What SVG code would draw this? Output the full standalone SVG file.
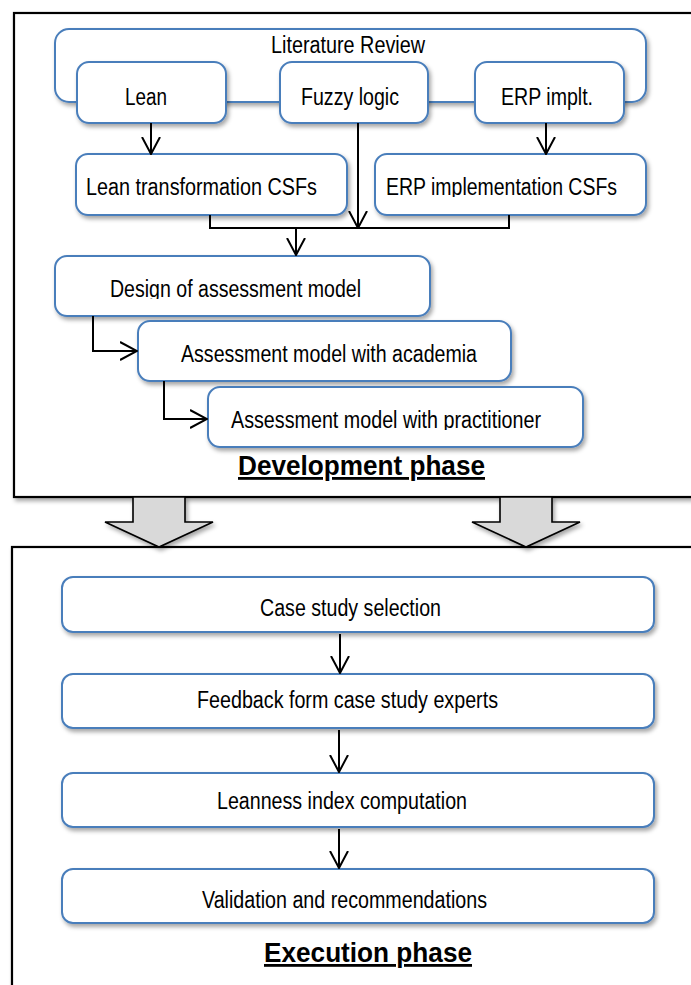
<svg xmlns="http://www.w3.org/2000/svg" width="691" height="985" viewBox="0 0 691 985">
  <defs>
    <style>
      .frame { fill: #ffffff; stroke: #000000; stroke-width: 2.2; }
      .box { fill: #ffffff; stroke: #4a7ebb; stroke-width: 2; }
      .lbl { font-family: "Liberation Sans", Arial, sans-serif; font-size: 23px; fill: #000000; text-anchor: middle; }
      .title { font-family: "Liberation Sans", Arial, sans-serif; font-size: 28px; font-weight: bold; fill: #000000; text-anchor: middle; text-decoration: underline; }
      .wire { fill: none; stroke: #000000; stroke-width: 2; }
      .block { fill: #d9d9d9; stroke: #000000; stroke-width: 1.6; stroke-linejoin: miter; }
    </style>
    <filter id="shadow" x="-10%" y="-10%" width="130%" height="140%">
      <feDropShadow dx="2" dy="3" stdDeviation="2" flood-color="#000000" flood-opacity="0.35"/>
    </filter>
    <marker id="chev" viewBox="0 0 18 20" refX="17" refY="10" markerWidth="18" markerHeight="20" markerUnits="userSpaceOnUse" orient="auto">
      <path d="M0,1 L17,10 L0,19" fill="none" stroke="#000000" stroke-width="2"/>
    </marker>
    <clipPath id="clipErp"><rect x="370" y="150" width="280" height="47"/></clipPath>
    <clipPath id="clipDesign"><rect x="50" y="250" width="390" height="49"/></clipPath>
    <clipPath id="clipPract"><rect x="200" y="385" width="390" height="45"/></clipPath>
  </defs>

  <!-- phase frames -->
  <g id="development-frame">
    <rect class="frame" x="14" y="13" width="700" height="484" filter="url(#shadow)"/>
  </g>
  <g id="execution-frame">
    <rect class="frame" x="12" y="547" width="700" height="460" filter="url(#shadow)"/>
  </g>

  <!-- block arrows between phases -->
  <g id="phase-arrows">
    <polygon class="block" points="133,497 185,497 185,522 213,522 159,547 105,522 133,522" filter="url(#shadow)"/>
    <polygon class="block" points="500,497 552,497 552,522 580,522 526,547 472,522 500,522" filter="url(#shadow)"/>
  </g>

  <!-- development phase nodes -->
  <g id="literature-review">
    <rect class="box" x="55" y="29" width="591" height="73" rx="14" filter="url(#shadow)"/>
    <text class="lbl" x="348" y="53" textLength="154" lengthAdjust="spacingAndGlyphs">Literature Review</text>
  </g>
  <g id="lean">
    <rect class="box" x="77" y="62" width="149" height="61" rx="12" filter="url(#shadow)"/>
    <text class="lbl" x="146" y="105" textLength="42" lengthAdjust="spacingAndGlyphs">Lean</text>
  </g>
  <g id="fuzzy-logic">
    <rect class="box" x="280" y="62" width="148" height="61" rx="12" filter="url(#shadow)"/>
    <text class="lbl" x="350" y="105" textLength="98" lengthAdjust="spacingAndGlyphs">Fuzzy logic</text>
  </g>
  <g id="erp-implt">
    <rect class="box" x="475" y="62" width="149" height="61" rx="12" filter="url(#shadow)"/>
    <text class="lbl" x="547" y="105" textLength="92" lengthAdjust="spacingAndGlyphs">ERP implt.</text>
  </g>
  <g id="lean-csfs">
    <rect class="box" x="76" y="154" width="271" height="61" rx="12" filter="url(#shadow)"/>
    <text class="lbl" x="201.5" y="195" textLength="231" lengthAdjust="spacingAndGlyphs">Lean transformation CSFs</text>
  </g>
  <g id="erp-csfs">
    <rect class="box" x="375" y="154" width="271" height="61" rx="12" filter="url(#shadow)"/>
    <text class="lbl" x="501.5" y="195" textLength="231" lengthAdjust="spacingAndGlyphs" clip-path="url(#clipErp)">ERP implementation CSFs</text>
  </g>
  <g id="design-model">
    <rect class="box" x="55" y="256" width="375" height="60" rx="12" filter="url(#shadow)"/>
    <text class="lbl" x="235.5" y="297" textLength="251" lengthAdjust="spacingAndGlyphs" clip-path="url(#clipDesign)">Design of assessment model</text>
  </g>
  <g id="model-academia">
    <rect class="box" x="138" y="321" width="373" height="60" rx="12" filter="url(#shadow)"/>
    <text class="lbl" x="329" y="362" textLength="296" lengthAdjust="spacingAndGlyphs">Assessment model with academia</text>
  </g>
  <g id="model-practitioner">
    <rect class="box" x="208" y="387" width="375" height="60" rx="12" filter="url(#shadow)"/>
    <text class="lbl" x="386" y="428" textLength="310" lengthAdjust="spacingAndGlyphs" clip-path="url(#clipPract)">Assessment model with practitioner</text>
  </g>
  <g id="development-title">
    <text class="title" x="361.5" y="475" textLength="247" lengthAdjust="spacingAndGlyphs">Development phase</text>
  </g>

  <!-- execution phase nodes -->
  <g id="case-selection">
    <rect class="box" x="62" y="577" width="592" height="55" rx="11" filter="url(#shadow)"/>
    <text class="lbl" x="350.5" y="616" textLength="181" lengthAdjust="spacingAndGlyphs">Case study selection</text>
  </g>
  <g id="feedback">
    <rect class="box" x="62" y="674" width="592" height="54" rx="11" filter="url(#shadow)"/>
    <text class="lbl" x="347.5" y="708" textLength="301" lengthAdjust="spacingAndGlyphs">Feedback form case study experts</text>
  </g>
  <g id="leanness-index">
    <rect class="box" x="62" y="773" width="592" height="54" rx="11" filter="url(#shadow)"/>
    <text class="lbl" x="342" y="809" textLength="250" lengthAdjust="spacingAndGlyphs">Leanness index computation</text>
  </g>
  <g id="validation">
    <rect class="box" x="62" y="869" width="592" height="54" rx="11" filter="url(#shadow)"/>
    <text class="lbl" x="344.5" y="908" textLength="285" lengthAdjust="spacingAndGlyphs">Validation and recommendations</text>
  </g>
  <g id="execution-title">
    <text class="title" x="368" y="962" textLength="208" lengthAdjust="spacingAndGlyphs">Execution phase</text>
  </g>

  <!-- connectors -->
  <g id="connectors">
    <line class="wire" x1="151" y1="123" x2="151" y2="154" marker-end="url(#chev)"/>
    <line class="wire" x1="546" y1="123" x2="546" y2="154" marker-end="url(#chev)"/>
    <line class="wire" x1="358" y1="123" x2="358" y2="228" marker-end="url(#chev)"/>
    <polyline class="wire" points="210,215 210,228 509,228 509,215"/>
    <line class="wire" x1="296" y1="228" x2="296" y2="255" marker-end="url(#chev)"/>
    <polyline class="wire" points="93,316 93,351 137,351" marker-end="url(#chev)"/>
    <polyline class="wire" points="164,381 164,419 207,419" marker-end="url(#chev)"/>
    <line class="wire" x1="340" y1="634" x2="340" y2="673" marker-end="url(#chev)"/>
    <line class="wire" x1="339" y1="730" x2="339" y2="772" marker-end="url(#chev)"/>
    <line class="wire" x1="339" y1="829" x2="339" y2="868" marker-end="url(#chev)"/>
  </g>
</svg>
